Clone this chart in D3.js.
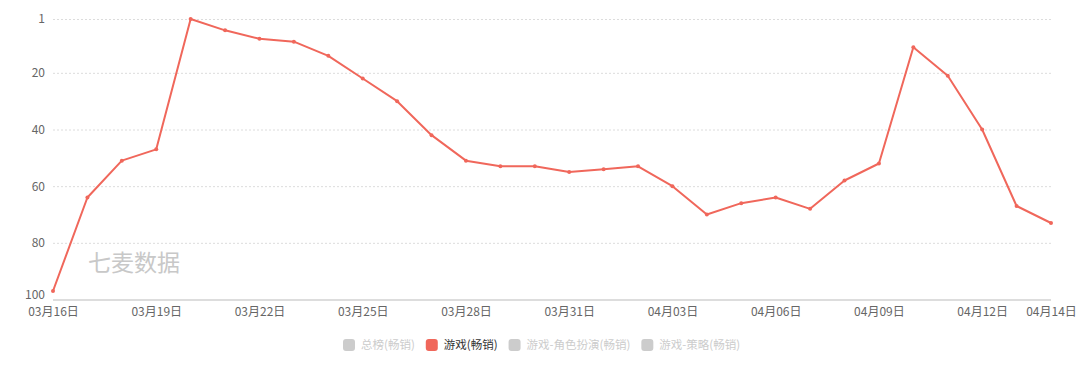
<!DOCTYPE html>
<html>
<head>
<meta charset="utf-8">
<script src="https://cdn.jsdelivr.net/npm/d3@7"></script>
<style>
  body { margin: 0; background: #fff; }
  svg { display: block; font-family: "Noto Sans CJK SC", "Microsoft YaHei", sans-serif; }
</style>
</head>
<body>
<svg id="chart"></svg>
<script>
// dates and ranks
const dates = ["03月16日","03月17日","03月18日","03月19日","03月20日","03月21日","03月22日","03月23日","03月24日","03月25日",
               "03月26日","03月27日","03月28日","03月29日","03月30日","03月31日","04月01日","04月02日","04月03日","04月04日",
               "04月05日","04月06日","04月07日","04月08日","04月09日","04月10日","04月11日","04月12日","04月13日","04月14日"];
const ranks = [97, 64, 51, 47, 1, 5, 8, 9, 14, 22,
               30, 42, 51, 53, 53, 55, 54, 53, 60, 70,
               66, 64, 68, 58, 52, 11, 21, 40, 67, 73];
const yTicks = [1, 20, 40, 60, 80, 100];
const shownDates = ["03月16日","03月19日","03月22日","03月25日","03月28日","03月31日","04月03日","04月06日","04月09日","04月12日","04月14日"];
const legendNames = ["总榜(畅销)", "游戏(畅销)", "游戏-角色扮演(畅销)", "游戏-策略(畅销)"];
const activeSeries = "游戏(畅销)";

const width = 1080, height = 376;
const plotLeft = 53, plotRight = 1051, plotTop = 19, plotBottom = 299.5;
const lineColor = "#f0675b";

const svg = d3.select("#chart")
    .attr("width", width)
    .attr("height", height);

const x = d3.scalePoint()
    .domain(dates)
    .range([plotLeft, plotRight]);

const y = d3.scaleLinear()
    .domain([1, 100])
    .range([plotTop, plotBottom]);

// grid lines
svg.append("g")
    .selectAll("line")
    .data(yTicks.slice(0, -1))
  .enter().append("line")
    .attr("x1", plotLeft)
    .attr("x2", plotRight)
    .attr("y1", d => y(d) + 0.5)
    .attr("y2", d => y(d) + 0.5)
    .attr("stroke", "#dcdcdc")
    .attr("stroke-dasharray", "2,2");

// y axis labels
const yAxis = svg.append("g")
    .attr("transform", `translate(${plotLeft},0)`)
    .call(d3.axisLeft(y).tickValues(yTicks).tickSize(0).tickPadding(8));
yAxis.select(".domain").remove();
yAxis.selectAll("text")
    .attr("fill", "#666")
    .attr("dy", d => d === 100 ? "-0.05em" : "0.32em")
    .style("font-size", "12px")
    .style("font-family", "\"Noto Sans CJK SC\", sans-serif");

// x axis
const xAxis = svg.append("g")
    .attr("transform", `translate(0,${plotBottom})`)
    .call(d3.axisBottom(x).tickValues(shownDates).tickSize(0).tickPadding(8));
xAxis.select(".domain")
    .attr("stroke", "#bbb")
    .attr("d", `M${plotLeft},0.5H${plotRight}`);
xAxis.selectAll("text")
    .attr("fill", "#666")
    .style("font-size", "12px")
    .style("font-family", "\"Noto Sans CJK SC\", sans-serif");

// watermark
svg.append("text")
    .attr("x", 88)
    .attr("y", 271)
    .attr("fill", "#c8c8c8")
    .style("font-size", "23px")
    .text("七麦数据");

// line
const line = d3.line()
    .x((d, i) => x(dates[i]))
    .y(d => y(d));

svg.append("path")
    .datum(ranks)
    .attr("fill", "none")
    .attr("stroke", lineColor)
    .attr("stroke-width", 2)
    .attr("stroke-linejoin", "round")
    .attr("d", line);

svg.append("g")
    .selectAll("circle")
    .data(ranks)
  .enter().append("circle")
    .attr("cx", (d, i) => x(dates[i]))
    .attr("cy", d => y(d))
    .attr("r", 2)
    .attr("fill", lineColor);

// legend
const legend = svg.append("g")
    .attr("transform", "translate(343,345)");
let lx = 0;
legendNames.forEach(name => {
    const on = name === activeSeries;
    const g = legend.append("g").attr("transform", `translate(${lx},0)`);
    g.append("rect")
        .attr("x", 0)
        .attr("y", -6)
        .attr("width", 12)
        .attr("height", 12)
        .attr("rx", 3)
        .attr("fill", on ? lineColor : "#ccc");
    const t = g.append("text")
        .attr("x", 18)
        .attr("dy", "0.35em")
        .attr("fill", on ? "#333" : "#ccc")
        .style("font-size", "11.5px")
        .text(name);
    lx += 18 + t.node().getComputedTextLength() + 11;
});
</script>
</body>
</html>
